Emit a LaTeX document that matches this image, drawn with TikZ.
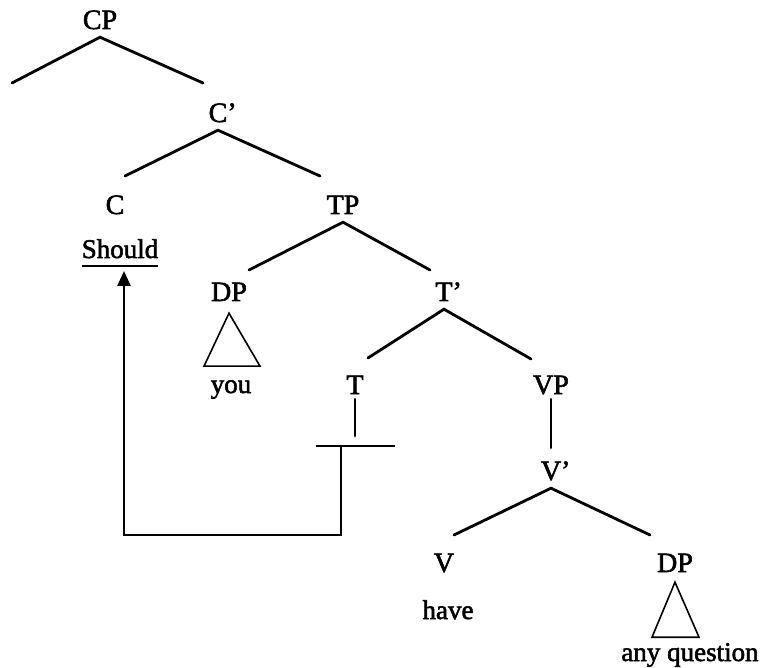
\documentclass[tikz,border=0pt]{standalone}
\usepackage{fontspec}
\setmainfont{Liberation Serif}
\newfontfamily\treefont{Liberation Serif}[FakeBold=2]
\usetikzlibrary{arrows.meta}

\tikzset{
  cat/.style={font=\treefont\fontsize{28}{30}\selectfont, inner xsep=0pt, inner ysep=8pt,
    text height=18pt, text depth=0pt},
  word/.style={font=\treefont\fontsize{27}{30}\selectfont, inner sep=0pt, anchor=base},
  branch/.style={line width=2.8pt, line cap=round},
  roof/.style={line width=1.6pt, line join=miter},
  move/.style={line width=2.8pt, line join=miter, -{Triangle[width=13pt,length=15pt]}},
}

\begin{document}
\begin{tikzpicture}[x=1pt,y=-1pt]
\useasboundingbox (0,0) rectangle (766,668);
% labels
\node[cat] (cp) at (100,20) {CP};
\node[cat] (cbar) at (218,113) {C\rlap{’}};
\node[cat] (c) at (115,205) {C};
\node[cat] (tp) at (343,205) {TP};
\node[word] (should) at (120,258) {Should};
\node[cat] (dp1) at (229,292) {DP};
\node[cat] (tbar) at (444,292) {T\rlap{’}};
\node[word] (you) at (231,393) {you};
\node[cat] (t) at (355,385) {T};
\node[cat] (vp) at (551,385) {VP};
\node[cat] (vbar) at (551,471) {V\rlap{’}};
\node[cat] (v) at (444,563) {V};
\node[cat] (dp2) at (675,563) {DP};
\node[word] (have) at (448,619) {have};
\node[word] (anyq) at (690,661) {any question};

% branch ends
\coordinate (cp-l) at (12,83);
\coordinate (cp-r) at (203,83);
\coordinate (cbar-l) at (125,176);
\coordinate (cbar-r) at (320,176);
\coordinate (tp-l) at (249,270);
\coordinate (tp-r) at (430,270);
\coordinate (tbar-l) at (368,358);
\coordinate (tbar-r) at (531,359);
\coordinate (vbar-l) at (454,535);
\coordinate (vbar-r) at (650,535);
\coordinate (t-end) at (355,436);
\coordinate (trace) at (341,446);
\coordinate (landing) at (124,271);

% branches
\draw[branch] (cp-l) -- (cp.south) -- (cp-r);
\draw[branch] (cbar-l) -- (cbar.south) -- (cbar-r);
\draw[branch] (tp-l) -- (tp.south) -- (tp-r);
\draw[branch] (tbar-l) -- (tbar.south) -- (tbar-r);
\draw[branch] (vbar-l) -- (vbar.south) -- (vbar-r);
\draw[branch, shorten <=-3pt, shorten >=6pt] (vp.south) -- (vbar.north);
\draw[branch, shorten <=-3pt] (t.south) -- (t-end);

% roofs
\draw[roof] ([shift={(0,4)}]dp1.south) -- ++(-25,53) -- ++(56,0) -- cycle;
\draw[roof] ([shift={(0,2)}]dp2.south) -- ++(-23,55) -- ++(47,0) -- cycle;

% underline and trace
\draw[roof] ([shift={(0,8)}]should.base west) -- ([shift={(0,8)}]should.base east);
\draw[roof] (316,446) -- (395,446);

% head movement
\draw[move] (trace) -- (341,535) -| (landing);
\end{tikzpicture}
\end{document}
